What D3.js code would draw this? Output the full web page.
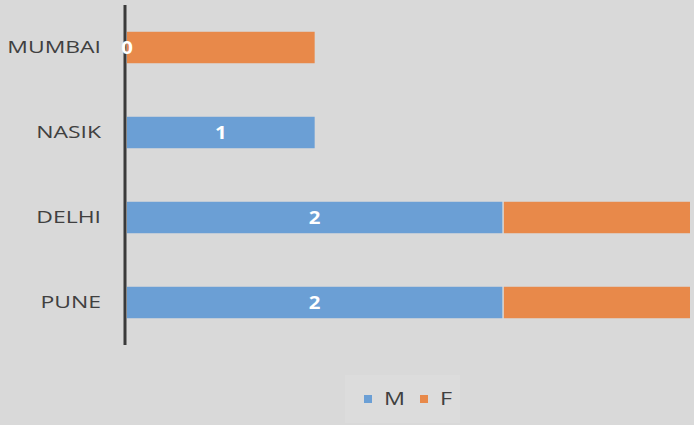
<!DOCTYPE html>
<html><head><meta charset="utf-8">
<script src="https://cdn.jsdelivr.net/npm/d3@7"></script>
<style>body{margin:0;background:#d9d9d9;}svg{display:block;}</style>
</head><body><svg id="c" width="694" height="425"></svg>
<script>
const categories = ["MUMBAI","NASIK","DELHI","PUNE"];
const seriesNames = ["M","F"];
const mValues = [0,1,2,2];
const fValues = [1,0,1,1];
const colors = ["#6b9fd5","#e8894a"];

const svg = d3.select("#c");
svg.append("rect").attr("width",694).attr("height",425).attr("fill","#d9d9d9");
const x = d3.scaleLinear().domain([0,3]).range([127,690]);
const y = d3.scaleBand().domain(categories).range([5,345]).paddingInner(0.63).paddingOuter(0.315);

const data = categories.map((c,i)=>({cat:c,M:mValues[i],F:fValues[i]}));
const stack = d3.stack().keys(seriesNames)(data);

stack.forEach((s,si)=>{
  svg.append("g").selectAll("rect").data(s).join("rect")
    .attr("x",d=>x(d[0])+(d[0]>0?1.5:0)).attr("y",d=>y(d.data.cat))
    .attr("width",d=>Math.max(0,x(d[1])-x(d[0])-(d[0]>0?1.5:0)))
    .attr("height",y.bandwidth()).attr("fill",colors[si]);
});

const sx = 1.35;
const yAxis = d3.axisLeft(y).tickSize(0).tickPadding(24/sx);
const ga = svg.append("g").attr("transform","translate(125,0)").call(yAxis);
ga.select(".domain").attr("stroke","#3a3a3a").attr("stroke-width",3).attr("d","M0,5V345");
ga.selectAll("text").attr("font-family","Open Sans, sans-serif").attr("font-size",17).attr("fill","#404040")
  .attr("transform",`scale(${sx},1)`);

svg.append("g").selectAll("text").data(stack[0]).join("text")
  .attr("transform",d=>`translate(${(x(d[0])+x(d[1]))/2},${y(d.data.cat)+y.bandwidth()/2}) scale(1.2,1)`)
  .attr("dy","0.36em").attr("text-anchor","middle")
  .attr("font-family","Open Sans, sans-serif").attr("font-weight","bold").attr("font-size",17)
  .attr("fill","#ffffff").text(d=>d.data.M);

// legend
const lg = svg.append("g");
lg.append("rect").attr("x",345).attr("y",375).attr("width",115).attr("height",48).attr("fill","#dcdcdc");
const items = [{n:"M",x:364},{n:"F",x:420}];
items.forEach((it,i)=>{
  lg.append("rect").attr("x",it.x).attr("y",395).attr("width",8).attr("height",8).attr("fill",colors[i]);
  lg.append("text").attr("transform",`translate(${it.x+20},399) scale(1.3,1)`).attr("dy","0.36em")
    .attr("font-family","Open Sans, sans-serif").attr("font-size",18).attr("fill","#404040").text(it.n);
});
</script></body></html>
